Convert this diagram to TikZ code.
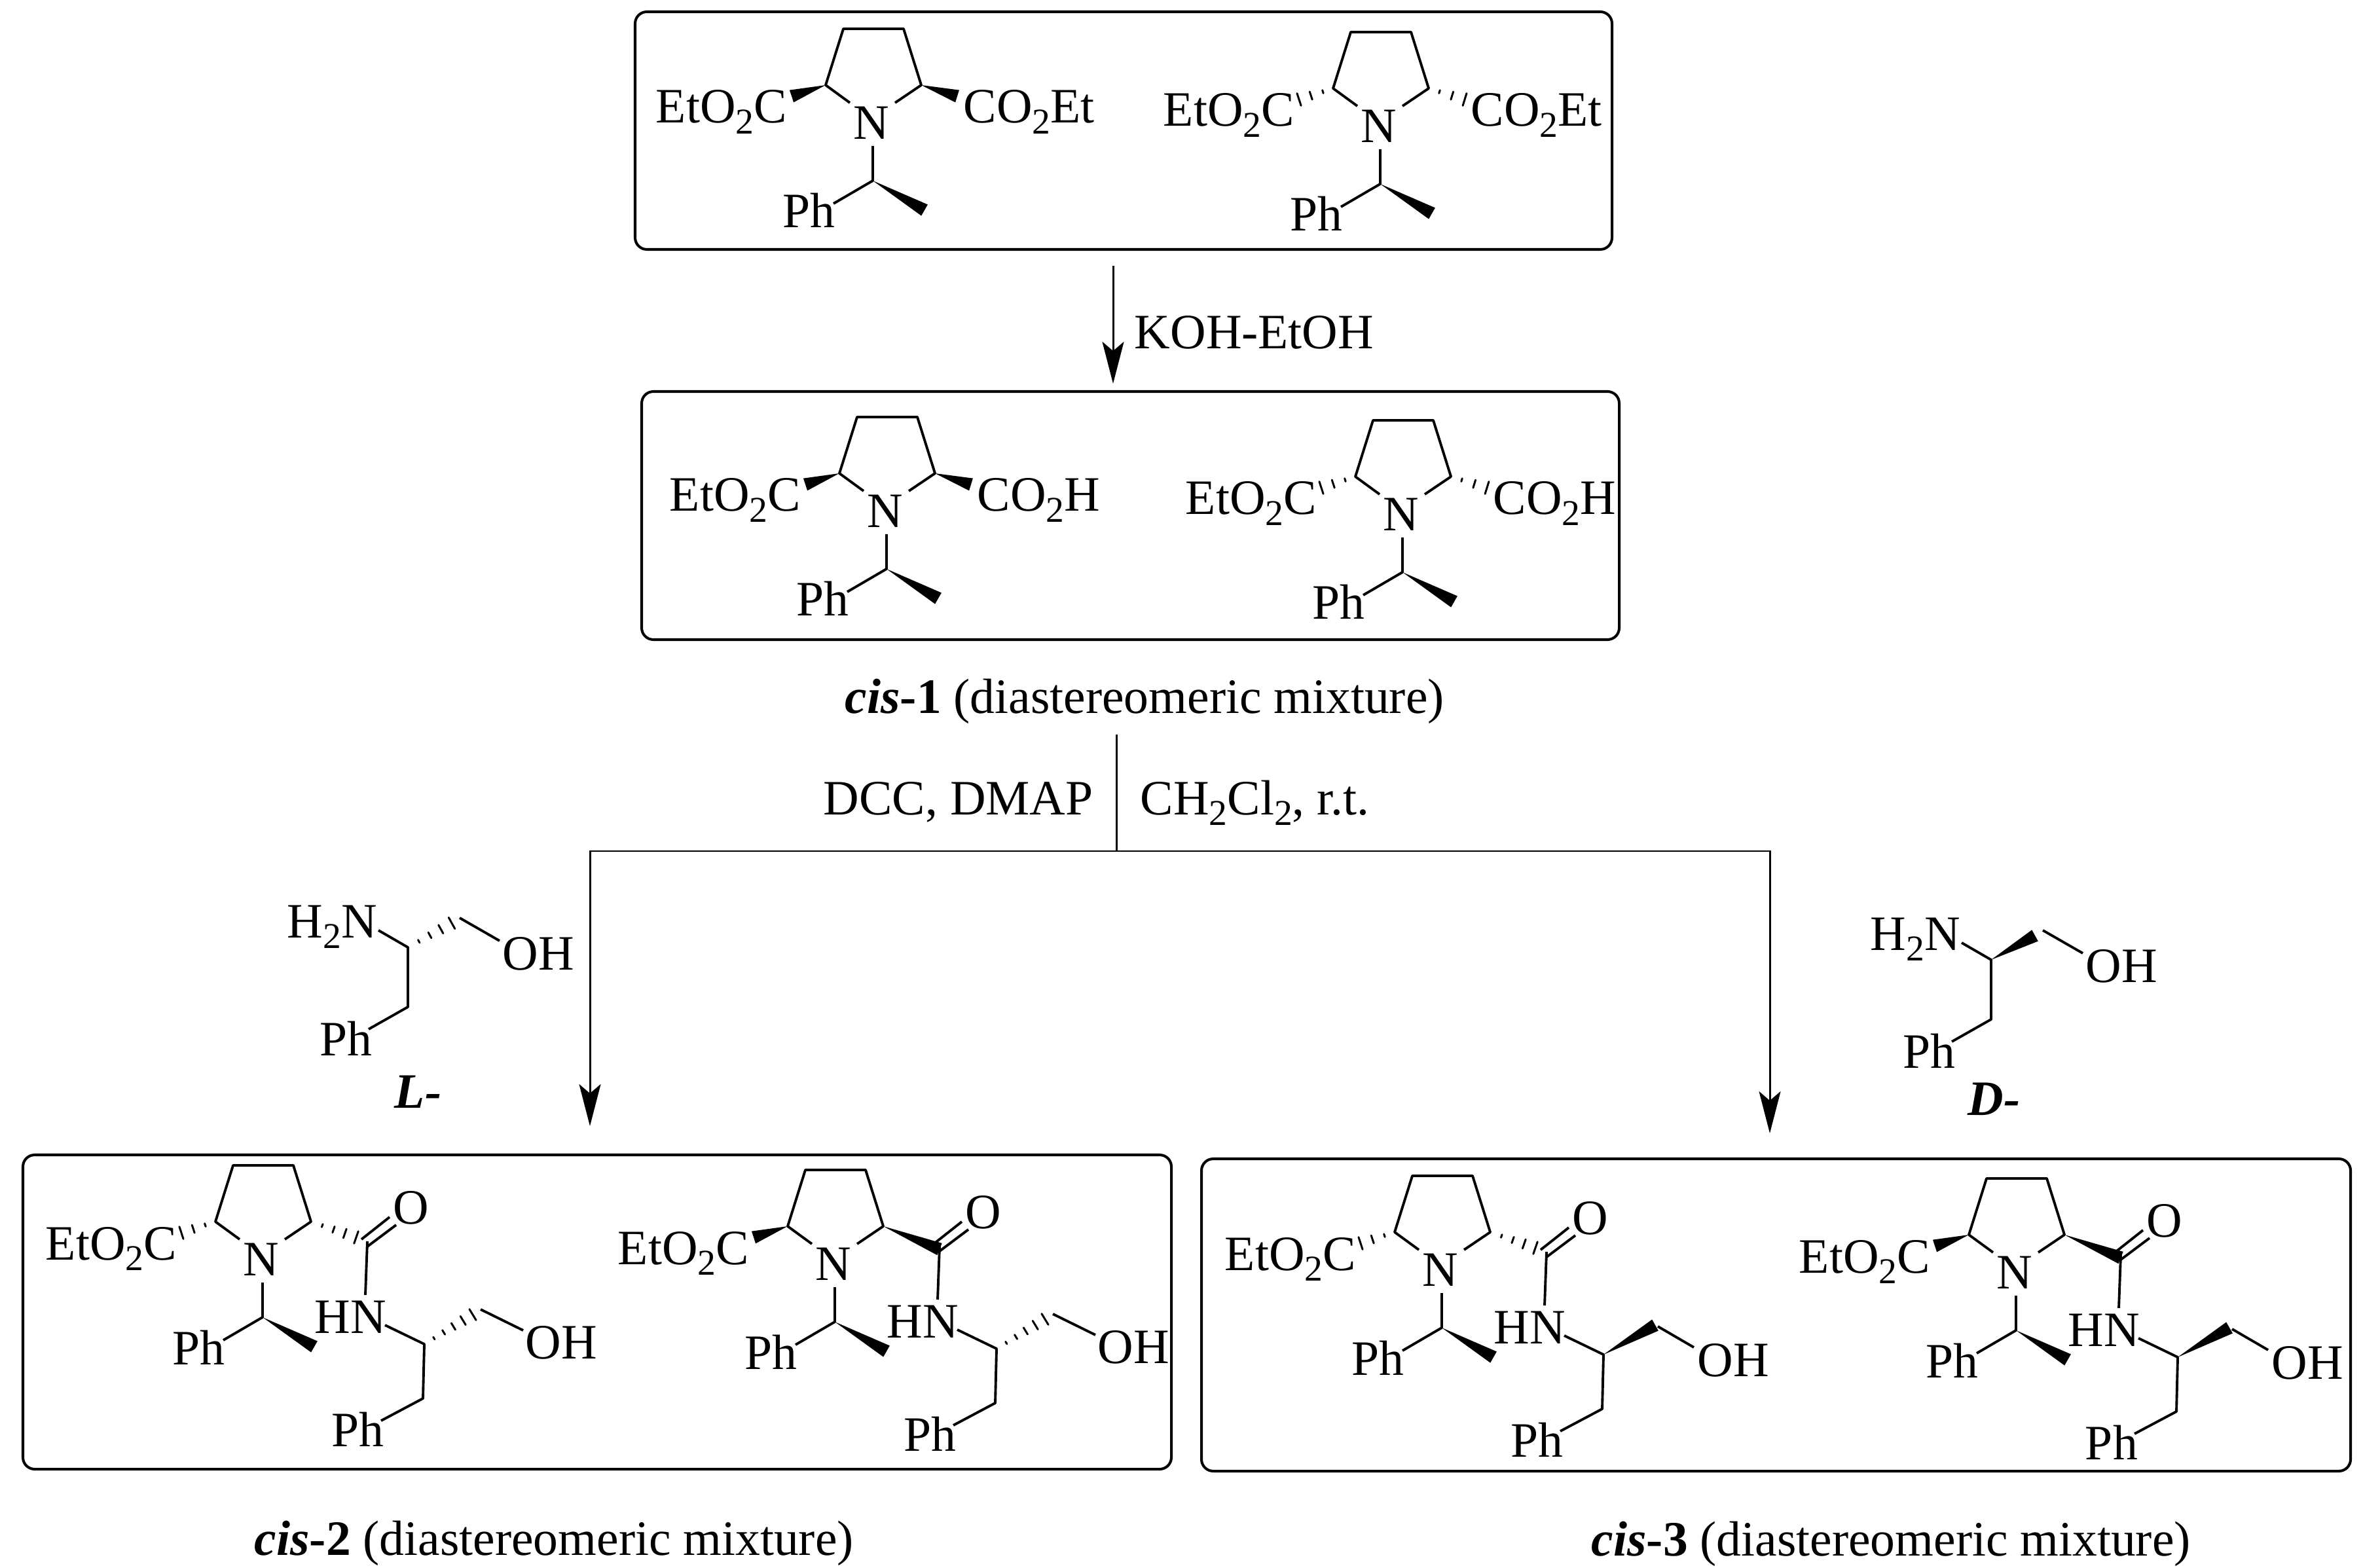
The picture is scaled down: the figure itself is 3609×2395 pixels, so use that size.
\documentclass[tikz,border=0pt]{standalone}
\usepackage{fontspec}
\setmainfont{Liberation Serif}
\usetikzlibrary{calc,fit,arrows.meta,positioning}

\newcommand{\chemsub}[1]{\raisebox{-.22em}{\fontsize{15.8}{16}\selectfont #1}}
\newcommand{\wedgebond}[2]{\fill ($(#2)!2.8pt!90:(#1)$) -- (#1) -- ($(#2)!2.8pt!-90:(#1)$) -- cycle;}
\newcommand{\hashbond}[3][.3/.7,.65/1.8,1/2.8]{\foreach \t/\w in {#1}
	{\coordinate (hp) at ($(#2)!\t!(#3)$);
	 \draw[hashline] ($(hp)!\w pt!90:(#2)$) -- ($(hp)!\w pt!-90:(#2)$);}}
\newcommand{\hashfour}[2]{\hashbond[.25/.7,.5/1.4,.75/2.1,1/2.8]{#1}{#2}}
\newcommand{\hashfive}[2]{\hashbond[.2/.6,.4/1.1,.6/1.7,.8/2.2,1/2.8]{#1}{#2}}

\begin{document}
\begin{tikzpicture} [x=0.1mm,y=-0.1mm,
       >={Stealth[length=6.4mm,width=3.3mm,inset=1.4mm]}, line width=1.1pt,
	   every node/.style={font=\fontsize{21.5}{24}\selectfont},
	   atomlabel/.style={inner sep=0pt},
	   textlabel/.style={inner sep=0pt,anchor=base west},
	   hashline/.style={line width=.85pt,line cap=round},
	   flowline/.style={line width=.85pt},
	   molbox/.style={draw,inner sep=0pt,line width=1.15pt,rounded corners=1.8mm}]
	\useasboundingbox (0,0) rectangle (3609,2395);

	%% Boxes round the mixtures
	\node [molbox,fit={(970,18) (2462,381)}] (boxester) {};
	\node [molbox,fit={(980,598) (2473,977)}] (boxacid) {};
	\node [molbox,fit={(35,1764) (1789,2244)}] (boxleft) {};
	\node [molbox,fit={(1835,1770) (3590,2247)}] (boxright) {};

	%% Pyrrolidine core with its N-substituent, one for each molecule
	\foreach \m/\nx/\ny/\lbond in {a/1333/188/\wedgebond, b/2108/193/\hashbond,
	                               c/1354/781/\wedgebond, d/2142/786/\hashbond,
	                               e/401/1924/\hashbond, f/1275/1931/\wedgebond,
	                               g/2202/1940/\hashbond, h/3079/1944/\wedgebond}
	{\begin{scope}[shift={(\nx,\ny)}]
		\node [atomlabel] (\m N) at (-2,0) {N};
		\coordinate (\m cl) at (-72,-58);
		\coordinate (\m tl) at (-45,-144);
		\coordinate (\m tr) at (47,-144);
		\coordinate (\m cr) at (74,-58);
		\coordinate (\m nl) at (-35,-31);
		\coordinate (\m nr) at (34,-31);
		\coordinate (\m nb) at (0,35);
		\coordinate (\m ch) at (0,88);
		\coordinate (\m pb) at (-60,123);
		\coordinate (\m me) at (79,133);
		\coordinate (\m le) at (-124,-41);
		\draw[line join=round] (\m nl) -- (\m cl) -- (\m tl) -- (\m tr) -- (\m cr) -- (\m nr);
		\draw[line join=round] (\m nb) -- (\m ch) -- (\m pb);
		\wedgebond{\m ch}{\m me}
		\lbond{\m cl}{\m le}
		\node [textlabel] (\m ph) at (-139,160) {Ph};
		\node [textlabel] (\m et) at (-333,0) {EtO\chemsub{2}C};
	\end{scope}}

	%% Ester and acid groups on the right of the ring
	\foreach \m/\nx/\ny/\rbond/\rtext in {a/1333/188/\wedgebond/CO\chemsub{2}Et, b/2108/193/\hashbond/CO\chemsub{2}Et,
	                                      c/1354/781/\wedgebond/CO\chemsub{2}H, d/2142/786/\hashbond/CO\chemsub{2}H}
	{\begin{scope}[shift={(\nx,\ny)}]
		\coordinate (\m re) at (129,-41);
		\rbond{\m cr}{\m re}
		\node [textlabel] (\m co) at (137,0) {\rtext};
	\end{scope}}

	%% Amide side chains
	\foreach \m/\nx/\ny/\rbond/\ex/\ey in {e/401/1924/\hashfour/143/-34, f/1275/1931/\wedgebond/160/-23,
	                                       g/2202/1940/\hashfour/143/-34, h/3079/1944/\wedgebond/160/-23}
	{\begin{scope}[shift={(\nx,\ny)}]
		\coordinate (\m re) at (\ex,\ey);
		\coordinate (\m cc) at (160,-28);
		\coordinate (\m hb) at (157,54);
		\rbond{\m cr}{\m re}
		\node [atomlabel] (\m O) at (227,-79) {O};
		\draw (151,-31) -- (194,-65);
		\draw (160,-20) -- (204,-53);
		\draw (\m cc) -- (\m hb);
		\node [textlabel] (\m hn) at (78,112) {HN};
		\coordinate (\m ns) at (187,100);
		\coordinate (\m cs) at (247,129);
		\coordinate (\m cb) at (245,212);
		\coordinate (\m pa) at (181,246);
		\draw[line join=round] (\m ns) -- (\m cs) -- (\m cb) -- (\m pa);
		\node [textlabel] (\m pn) at (104,285) {Ph};
	\end{scope}}
	\foreach \m/\nx/\ny in {e/401/1924, f/1275/1931}
	{\begin{scope}[shift={(\nx,\ny)}]
		\coordinate (\m he) at (321,84);
		\coordinate (\m oc) at (333,76);
		\coordinate (\m ob) at (398,108);
		\hashfive{\m cs}{\m he}
		\draw (\m oc) -- (\m ob);
		\node [textlabel] (\m oh) at (400,151) {OH};
	\end{scope}}
	\foreach \m/\nx/\ny in {g/2202/1940, h/3079/1944}
	{\begin{scope}[shift={(\nx,\ny)}]
		\coordinate (\m he) at (326,84);
		\coordinate (\m oc) at (330,86);
		\coordinate (\m ob) at (385,118);
		\wedgebond{\m cs}{\m he}
		\draw (\m oc) -- (\m ob);
		\node [textlabel] (\m oh) at (389,162) {OH};
	\end{scope}}

	%% Free amino alcohols
	\foreach \m/\nx/\ny/\sbond/\tag/\tx/\ty in {l/623/1447/\hashfour/L/-22/245, r/3041/1466/\wedgebond/D/-37/237}
	{\begin{scope}[shift={(\nx,\ny)}]
		\node [textlabel] (\m am) at (-186,-15) {H\chemsub{2}N};
		\coordinate (\m na) at (-45,-26);
		\coordinate (\m cs) at (0,0);
		\coordinate (\m se) at (67,-37);
		\coordinate (\m oc) at (79,-45);
		\coordinate (\m ob) at (140,-10);
		\coordinate (\m cb) at (0,91);
		\coordinate (\m pa) at (-60,125);
		\draw[line join=round] (\m na) -- (\m cs) -- (\m cb) -- (\m pa);
		\sbond{\m cs}{\m se}
		\draw (\m oc) -- (\m ob);
		\node [textlabel] (\m oh) at (143,34) {OH};
		\node [textlabel] (\m ph) at (-136,165) {Ph};
		\node [textlabel] (\m tg) at (\tx,\ty) {\bfseries\itshape \tag-};
	\end{scope}}

	%% Reaction arrows and their conditions
	\coordinate (koltop) at (1700,406);
	\coordinate (kolend) at (1700,586);
	\draw[->,flowline] (koltop) -- (kolend);
	\node [textlabel] (koh) at (1731,533) {KOH-EtOH};
	\node [textlabel] (capone) at (1289,1089) {{\bfseries\itshape cis}\textbf{-1} (diastereomeric mixture)};
	\coordinate (stem) at (1705,1122);
	\coordinate (split) at (1705,1300);
	\coordinate (splitl) at (901,1300);
	\coordinate (splitr) at (2703,1300);
	\coordinate (endl) at (901,1720);
	\coordinate (endr) at (2703,1731);
	\draw[flowline] (stem) -- (split);
	\draw[->,flowline] (split) -- (splitl) -- (endl);
	\draw[->,flowline] (split) -- (splitr) -- (endr);
	\node [textlabel] (dcc) at (1256,1244) {DCC, DMAP};
	\node [textlabel] (dcm) at (1740,1244) {CH\chemsub{2}Cl\chemsub{2}, r.t.};
	\node [textlabel] (captwo) at (387,2375) {{\bfseries\itshape cis}\textbf{-2} (diastereomeric mixture)};
	\node [textlabel] (capthree) at (2429,2376) {{\bfseries\itshape cis}\textbf{-3} (diastereomeric mixture)};
\end{tikzpicture}
\end{document}
